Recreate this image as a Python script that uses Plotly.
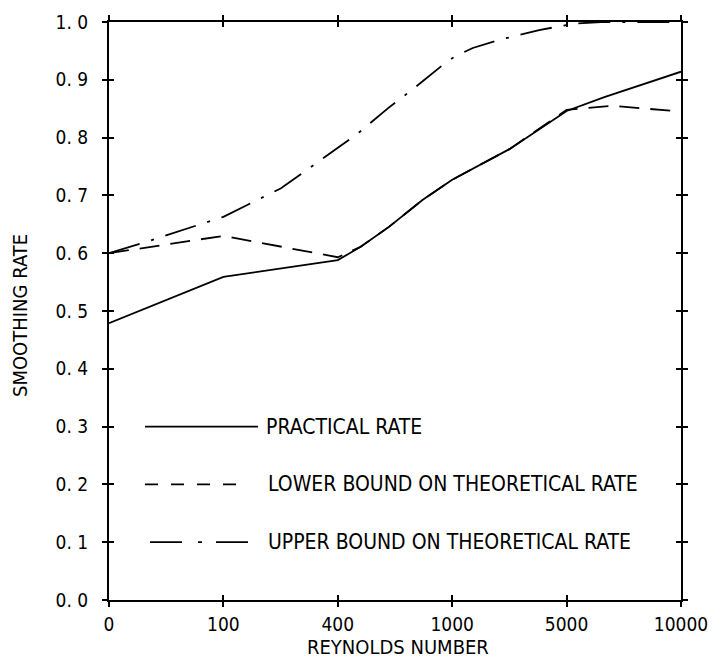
import plotly.graph_objects as go

# Category positions (equally spaced) and their labels
x_tickvals = [0, 1, 2, 3, 4, 5]
x_ticktext = ["0", "100", "400", "1000", "5000", "10000"]
y_tickvals = [0.0, 0.1, 0.2, 0.3, 0.4, 0.5, 0.6, 0.7, 0.8, 0.9, 1.0]
y_ticktext = ["0. 0", "0. 1", "0. 2", "0. 3", "0. 4", "0. 5", "0. 6", "0. 7", "0. 8", "0. 9", "1. 0"]

practical_x = [0, 1, 2, 2.2, 2.45, 2.74, 3, 3.5, 4, 4.33, 5]
practical_y = [0.479, 0.559, 0.588, 0.611, 0.646, 0.692, 0.727, 0.780, 0.846, 0.870, 0.914]

lower_x = [0, 1, 2, 2.2, 2.45, 2.74, 3, 3.5, 4, 4.4, 5]
lower_y = [0.600, 0.630, 0.593, 0.611, 0.646, 0.692, 0.727, 0.780, 0.848, 0.855, 0.845]

upper_x = [0, 0.3, 1, 1.5, 1.73, 2, 2.18, 2.44, 2.67, 2.92, 3.02, 3.18, 3.41, 3.76, 4.06, 4.3, 5]
upper_y = [0.600, 0.618, 0.663, 0.712, 0.744, 0.782, 0.808, 0.851, 0.886, 0.926, 0.940, 0.955,
           0.969, 0.986, 0.997, 1.000, 1.000]

legend_labels = ["PRACTICAL RATE", "LOWER BOUND ON THEORETICAL RATE", "UPPER BOUND ON THEORETICAL RATE"]
x_title = "REYNOLDS NUMBER"
y_title = "SMOOTHING RATE"

FONT = "DejaVu Sans Condensed, DejaVu Sans, sans-serif"
LW = 1.8
OFF = 8  # default page body margin
W, H = 716 - OFF, 664 - OFF
ML, MT = 109 - OFF, 22 - OFF
MR = W - (681 - OFF)
MB = H - (600 - OFF)

fig = go.Figure()
fig.add_trace(go.Scatter(x=practical_x, y=practical_y, mode="lines",
                         line=dict(color="black", width=LW), name=legend_labels[0]))
fig.add_trace(go.Scatter(x=lower_x, y=lower_y, mode="lines",
                         line=dict(color="black", width=LW, dash="20px,11px"), name=legend_labels[1]))
fig.add_trace(go.Scatter(x=upper_x, y=upper_y, mode="lines",
                         line=dict(color="black", width=LW, dash="32px,12px,3px,12px"), name=legend_labels[2]))
# invisible trace to create the overlay axes for inward ticks
fig.add_trace(go.Scatter(x=[None], y=[None], xaxis="x2", yaxis="y2", showlegend=False, hoverinfo="skip"))

axis_common = dict(showgrid=False, zeroline=False, showline=True, linecolor="black", linewidth=2,
                   ticklen=5, tickwidth=1.5, tickcolor="black", mirror="ticks", automargin=False)

fig.update_layout(
    template="none",
    width=W, height=H,
    margin=dict(l=ML, r=MR, t=MT, b=MB, pad=0),
    paper_bgcolor="white", plot_bgcolor="white",
    showlegend=False,
    font=dict(family=FONT, size=19, color="black"),
    xaxis=dict(range=[0, 5], tickmode="array", tickvals=x_tickvals, ticktext=x_ticktext,
               ticks="outside", ticklabelstandoff=1, ticklabeloverflow="allow",
               tickfont=dict(size=19), **axis_common),
    yaxis=dict(range=[0, 1], tickmode="array", tickvals=y_tickvals, ticktext=y_ticktext,
               ticks="outside", ticklabelstandoff=10, ticklabeloverflow="allow",
               tickfont=dict(size=19), **axis_common),
    xaxis2=dict(range=[0, 5], overlaying="x", anchor="y2", tickmode="array", tickvals=x_tickvals,
                ticks="inside", showticklabels=False, **axis_common),
    yaxis2=dict(range=[0, 1], overlaying="y", anchor="x2", tickmode="array", tickvals=y_tickvals,
                ticks="inside", showticklabels=False, **axis_common),
)

pw = W - ML - MR
ph = H - MT - MB
# page pixel -> paper fraction
def px(x):
    return (x - OFF - ML) / pw
def py(y):
    return (H - MB - (y - OFF)) / ph

# Axis titles
fig.add_annotation(xref="paper", yref="paper", x=px(398), y=py(647), text=x_title,
                   showarrow=False, xanchor="center", yanchor="middle",
                   font=dict(family=FONT, size=20, color="black"))
fig.add_annotation(xref="paper", yref="paper", x=px(20), y=py(316), text=y_title, textangle=-90,
                   showarrow=False, xanchor="center", yanchor="middle",
                   font=dict(family=FONT, size=20, color="black"))

# Custom legend (keys drawn inside the plot area)
legend_rows = [0.3, 0.2, 0.1]
keys = [
    dict(x0=145, x1=258, dash="solid"),
    dict(x0=145, x1=237, dash="13px,13px"),
    dict(x0=150, x1=250, dash="32px,16px,4px,14px"),
]
text_x = [264, 266, 266]
for row, key, label, tx in zip(legend_rows, keys, legend_labels, text_x):
    fig.add_shape(type="line", xref="paper", yref="paper",
                  x0=px(key["x0"]), x1=px(key["x1"]), y0=row, y1=row,
                  line=dict(color="black", width=LW, dash=key["dash"]))
    fig.add_annotation(xref="paper", yref="paper", x=px(tx), y=row, text=label,
                       showarrow=False, xanchor="left", yanchor="middle",
                       font=dict(family=FONT, size=21, color="black"))

fig.write_html("out.html")
